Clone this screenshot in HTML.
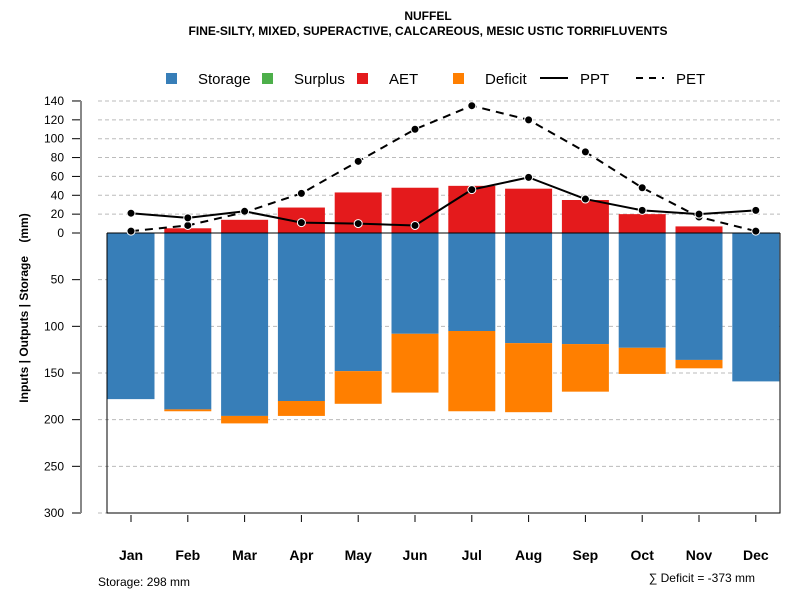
<!DOCTYPE html>
<html><head><meta charset="utf-8"><style>
body{margin:0;background:#fff;font-family:"Liberation Sans",sans-serif}
svg text{font-family:"Liberation Sans",sans-serif}
</style></head><body>
<svg id="c" width="800" height="600">
<text x="428" y="20" text-anchor="middle" font-size="12" font-weight="bold">NUFFEL</text>
<text x="428" y="35" text-anchor="middle" font-size="12" font-weight="bold">FINE-SILTY, MIXED, SUPERACTIVE, CALCAREOUS, MESIC USTIC TORRIFLUVENTS</text>
<g>
<rect x="166" y="73" width="11" height="11" fill="#377eb8"/>
<text x="198" y="84" font-size="15">Storage</text>
<rect x="262" y="73" width="11" height="11" fill="#4daf4a"/>
<text x="294" y="84" font-size="15">Surplus</text>
<rect x="357" y="73" width="11" height="11" fill="#e41a1c"/>
<text x="389" y="84" font-size="15">AET</text>
<rect x="453" y="73" width="11" height="11" fill="#ff7f00"/>
<text x="485" y="84" font-size="15">Deficit</text>
<line x1="540" y1="78" x2="568" y2="78" stroke="#000" stroke-width="2"/>
<text x="580" y="84" font-size="15">PPT</text>
<line x1="636" y1="78" x2="664" y2="78" stroke="#000" stroke-width="2" stroke-dasharray="7,6"/>
<text x="676" y="84" font-size="15">PET</text>
</g>
<text transform="translate(28,308) rotate(-90)" text-anchor="middle" font-size="12" font-weight="bold">Inputs | Outputs | Storage &#160;&#160; (mm)</text>
<text x="98" y="586" font-size="12">Storage: 298 mm</text>
<text x="755" y="582" text-anchor="end" font-size="12">∑ Deficit = -373 mm</text>
<g id="plot"></g>
</svg>
<script>
const months=["Jan","Feb","Mar","Apr","May","Jun","Jul","Aug","Sep","Oct","Nov","Dec"];
const aet=[0,5,14,27,43,48,50,47,35,20,7,0];
const storage=[178,189,196,180,148,108,105,118,119,123,136,159];
const deficit=[0,2,8,16,35,63,86,74,51,28,9,0];
const ppt=[21,16,23,11,10,8,46,59,36,24,20,24];
const pet=[2,8,22,42,76,110,135,120,86,48,17,2];
const posTicks=[0,20,40,60,80,100,120,140];
const negTicks=[50,100,150,200,250,300];
const NS="http://www.w3.org/2000/svg",g=document.getElementById('plot');
const y0=233;
const yPos=v=>y0-v*0.943;
const yNeg=v=>y0+v*0.9333;
const xC=i=>131+i*56.8;
function mk(t,a){const e=document.createElementNS(NS,t);for(const k in a)e.setAttribute(k,a[k]);g.appendChild(e);return e;}
// grid & ticks
posTicks.forEach(v=>{const y=yPos(v);
 if(v>0){const l=mk('line',{x1:98,x2:780,y1:y,y2:y,stroke:'#bbb','stroke-dasharray':'4,3'});}
 const t=mk('line',{x1:72,x2:81,y1:y,y2:y,stroke:'#000'});
 const tx=mk('text',{x:64,y:y+4,'text-anchor':'end','font-size':12});tx.textContent=v;});
negTicks.forEach(v=>{const y=yNeg(v);
 const l=mk('line',{x1:98,x2:780,y1:y,y2:y,stroke:'#bbb','stroke-dasharray':'4,3'});
 const t=mk('line',{x1:72,x2:81,y1:y,y2:y,stroke:'#000'});
 const tx=mk('text',{x:64,y:y+4,'text-anchor':'end','font-size':12});tx.textContent=v;});
const ax=mk('line',{x1:81,x2:81,y1:yPos(140),y2:yNeg(300),stroke:'#888','stroke-width':2});


const fr=mk('path',{d:`M107,${y0}V${yNeg(300)}H780V${y0}`,fill:'none',stroke:'#000'});


const bw=47;
months.forEach((m,i)=>{const x=xC(i)-bw/2;
 let r=mk('rect',{x:x,y:y0,width:bw,height:yNeg(storage[i])-y0,fill:'#377eb8'});
 
 
 if(deficit[i]>0){r=mk('rect',{x:x,y:yNeg(storage[i]),width:bw,height:yNeg(storage[i]+deficit[i])-yNeg(storage[i]),fill:'#ff7f00'});
 
 }
 if(aet[i]>0){r=mk('rect',{x:x,y:yPos(aet[i]),width:bw,height:y0-yPos(aet[i]),fill:'#e41a1c'});
 
 }
 const t=mk('line',{x1:xC(i),x2:xC(i),y1:515,y2:522,stroke:'#000'});
 
 
 const tx=mk('text',{x:xC(i),y:560,'text-anchor':'middle','font-size':14,'font-weight':'bold'});
 tx.textContent=m;
 
 
});
const zl=mk('line',{x1:107,x2:780,y1:y0,y2:y0,stroke:'#000'});


function series(arr,name,dash){
 const p=mk('polyline',{points:arr.map((v,i)=>xC(i)+','+yPos(v)).join(' '),fill:'none',stroke:'#000','stroke-width':2,'stroke-dasharray':dash});
 
 
 arr.forEach((v,i)=>{const c=mk('circle',{cx:xC(i),cy:yPos(v),r:4,fill:'#000',stroke:'#fff','stroke-width':1});
 
 });
}
series(pet,'pet','8,6');
series(ppt,'ppt','none');
</script>
</body></html>
